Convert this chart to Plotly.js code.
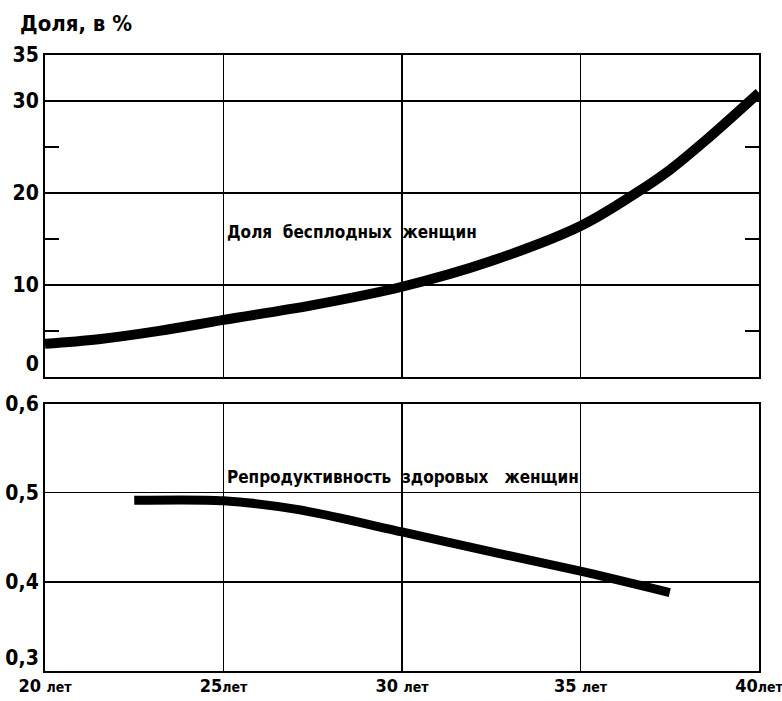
<!DOCTYPE html>
<html>
<head>
<meta charset="utf-8">
<script src="https://cdn.plot.ly/plotly-3.0.1.min.js"></script>
<style>html,body{margin:0;padding:0;background:#fff}</style>
</head>
<body>
<div id="chart" style="width:782px;height:701px"></div>
<script>
// Share of infertile women, %
const infertAge = [20, 21.5, 23.2, 25, 27.5, 30, 32.5, 35, 36.6, 37.5, 38.5, 40];
const infertPct = [3.6, 4.1, 5.0, 6.2, 7.8, 9.8, 12.6, 16.4, 20.1, 22.5, 25.7, 30.9];
// Reproductivity of healthy women
const reproAge = [22.5, 25, 27.1, 30, 32.7, 35, 37.5];
const reproVal = [0.4915, 0.491, 0.481, 0.456, 0.432, 0.412, 0.388];

const xTickVals = [20, 25, 30, 35, 40];
const xTickNums = ['20', '25', '30', '35', '40'];
const xTickGaps = [' ', '', ' ', ' ', ''];
const yTopVals = [0, 5, 10, 15, 20, 25, 30, 35];
const yTopText = ['0<br> ', '', '10', '', '20', '', '30', '35'];
const yTopGrid = [10, 20, 30];
const yBotVals = [0.3, 0.4, 0.5, 0.6];
const yBotText = ['0,3<br> ', '0,4', '0,5', '0,6'];

const labelTop = 'Доля&nbsp; бесплодных&nbsp; женщин';
const labelBot = 'Репродуктивность&nbsp; здоровых&nbsp;&nbsp; женщин';
const yTitle = 'Доля, в %';

const xTickText = xTickNums.map((n, i) => n + xTickGaps[i] + "<span style='font-size:14px'>лет</span>");

const FONT = 'DejaVu Sans Condensed, Liberation Sans Narrow, sans-serif';
const NUMFONT = 'Liberation Sans Narrow, DejaVu Sans Condensed, sans-serif';

const traces = [
  {x: infertAge, y: infertPct, xaxis: 'x', yaxis: 'y', mode: 'lines',
   line: {color: '#000', width: 10, shape: 'spline', smoothing: 1}, hoverinfo: 'skip'},
  {x: reproAge, y: reproVal, xaxis: 'x2', yaxis: 'y2', mode: 'lines',
   line: {color: '#000', width: 9, shape: 'spline', smoothing: 0.8}, hoverinfo: 'skip'}
];

const axLine = {showline: true, linecolor: '#000', linewidth: 2, mirror: true, zeroline: false};
const numFont = {family: NUMFONT, size: 21, weight: 'bold', color: '#000'};

const layout = {
  width: 782, height: 701,
  margin: {l: 45, r: 23, t: 55, b: 30},
  paper_bgcolor: '#fff', plot_bgcolor: '#fff',
  showlegend: false,
  font: {family: FONT, color: '#000', size: 17},
  xaxis: Object.assign({}, axLine, {
    domain: [0, 1], anchor: 'y', range: [20, 40],
    tickvals: xTickVals, showticklabels: false, ticks: '',
    showgrid: true, gridcolor: '#000', gridwidth: 1.5
  }),
  yaxis: Object.assign({}, axLine, {
    domain: [0.4775, 1], anchor: 'x', range: [0, 35],
    tickvals: yTopVals, ticktext: yTopText,
    ticks: 'inside', ticklen: 14, tickwidth: 1.5, tickcolor: '#000',
    showgrid: false, mirror: 'ticks',
    minor: {tickvals: yTopGrid, showgrid: true, gridcolor: '#000', gridwidth: 1.5, ticks: ''},
    tickfont: numFont
  }),
  xaxis2: Object.assign({}, axLine, {
    domain: [0, 1], anchor: 'y2', range: [20, 40],
    tickvals: xTickVals, ticktext: xTickText, ticks: '',
    showgrid: true, gridcolor: '#000', gridwidth: 1.5,
    ticklabeloverflow: 'allow', ticklabelstandoff: -3,
    tickfont: {family: NUMFONT, size: 18, weight: 'bold', color: '#000'}
  }),
  yaxis2: Object.assign({}, axLine, {
    domain: [0, 0.4341], anchor: 'x2', range: [0.3, 0.6],
    tickvals: yBotVals, ticktext: yBotText, ticks: '',
    showgrid: true, gridcolor: '#000', gridwidth: 1.5,
    tickfont: numFont
  }),
  annotations: [
    {text: '<b>' + yTitle + '</b>', xref: 'paper', yref: 'paper', x: -0.0378, y: 1.028,
     xanchor: 'left', yanchor: 'bottom', showarrow: false,
     font: {family: FONT, size: 22, color: '#000'}},
    {text: '<b>' + labelTop + '</b>', xref: 'x', yref: 'y', x: 25.05, y: 15.7, xanchor: 'left', yanchor: 'middle',
     showarrow: false, font: {family: FONT, size: 17, color: '#000'}},
    {text: '<b>' + labelBot + '</b>', xref: 'x2', yref: 'y2', x: 25.05, y: 0.518, xanchor: 'left', yanchor: 'middle',
     showarrow: false, font: {family: FONT, size: 17, color: '#000'}}
  ]
};

Plotly.newPlot('chart', traces, layout, {displayModeBar: false, staticPlot: true});
</script>
</body>
</html>
